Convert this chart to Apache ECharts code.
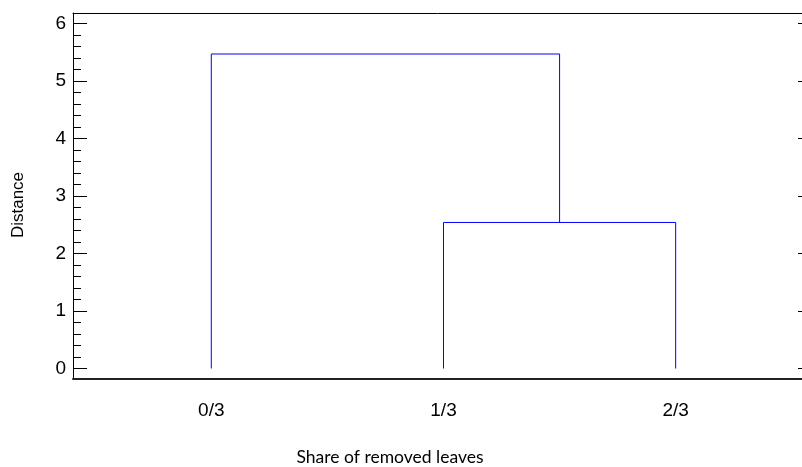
<!DOCTYPE html>
<html>
<head>
<meta charset="utf-8">
<script src="https://cdn.jsdelivr.net/npm/echarts@6/dist/echarts.min.js"></script>
<style>
  html, body { margin: 0; padding: 0; background: #fff; }
  #chart { width: 802px; height: 467px; }
</style>
</head>
<body>
<div id="chart"></div>
<script>
// Leaves of the dendrogram, in drawing order
const leafLabels = ['0/3', '1/3', '2/3'];
const leafPositions = [0, 1, 2];

// Agglomeration steps: clusters joined and the distance at which they join.
// Cluster ids 0..2 are leaves; id 3 is the cluster produced by the first merge.
const mergeLeft = [1, 0];
const mergeRight = [2, 3];
const mergeHeights = [2.54, 5.47];

// Y-axis tick values
const yTicks = [0, 1, 2, 3, 4, 5, 6];

const axisFont = 'Liberation Sans, Arial, sans-serif';

// Position and height of each cluster, then the U-shaped link for each merge
const clusterX = leafPositions.slice();
const clusterH = leafPositions.map(() => 0);
const linkSeries = mergeHeights.map((h, i) => {
  const a = mergeLeft[i], b = mergeRight[i];
  const pts = [
    [clusterX[a], clusterH[a]],
    [clusterX[a], h],
    [clusterX[b], h],
    [clusterX[b], clusterH[b]]
  ];
  clusterX.push((clusterX[a] + clusterX[b]) / 2);
  clusterH.push(h);
  return {
    type: 'line',
    xAxisIndex: 0,
    yAxisIndex: 0,
    data: pts,
    showSymbol: false,
    symbol: 'none',
    silent: true,
    lineStyle: { color: '#0000ff', width: 1 },
    animation: false
  };
});

const chart = echarts.init(document.getElementById('chart'), null, { renderer: 'canvas' });

chart.setOption({
  animation: false,
  backgroundColor: '#ffffff',
  grid: [
    // plotting frame (continues past the right edge of the canvas)
    { left: 73, top: 13, right: 0, height: 366, containLabel: false },
    // tick frame: spans exactly 0..6 on the same vertical scale
    { left: 73, top: 23.5, right: 0, height: 345, containLabel: false }
  ],
  xAxis: [
    {
      gridIndex: 0, type: 'value', min: -0.5956, max: 2.544, position: 'bottom',
      axisLine: { show: true, onZero: false, lineStyle: { color: '#222', width: 2 } },
      axisTick: { show: false },
      splitLine: { show: false },
      axisLabel: {
        customValues: leafPositions,
        formatter: v => leafLabels[leafPositions.indexOf(v)],
        fontFamily: axisFont, fontSize: 19, color: '#000', margin: 22
      }
    },
    {
      gridIndex: 0, type: 'value', min: -0.5956, max: 2.544, position: 'top',
      axisLine: { show: true, onZero: false, lineStyle: { color: '#000', width: 1 } },
      axisTick: { show: false },
      axisLabel: { show: false },
      splitLine: { show: false }
    },
    { gridIndex: 1, type: 'value', min: 0, max: 1, show: false }
  ],
  yAxis: [
    {
      gridIndex: 0, type: 'value', min: -0.1826, max: 6.183,
      axisLine: { show: true, onZero: false, lineStyle: { color: '#000', width: 1 } },
      axisTick: { show: false },
      axisLabel: { show: false },
      splitLine: { show: false }
    },
    {
      gridIndex: 1, type: 'value', position: 'left', min: yTicks[0], max: yTicks[yTicks.length - 1], interval: 1,
      axisLine: { show: false, onZero: false },
      axisTick: { show: true, inside: true, length: 14, lineStyle: { color: '#000', width: 1 } },
      minorTick: { show: true, splitNumber: 5, length: 8, lineStyle: { color: '#000', width: 1 } },
      axisLabel: { fontFamily: axisFont, fontSize: 19, color: '#000', margin: 7 },
      splitLine: { show: false },
      minorSplitLine: { show: false }
    },
    {
      gridIndex: 1, type: 'value', position: 'right', min: yTicks[0], max: yTicks[yTicks.length - 1], interval: 1,
      axisLine: { show: false, onZero: false },
      axisTick: { show: true, inside: true, length: 4, lineStyle: { color: '#000', width: 1 } },
      axisLabel: { show: false },
      splitLine: { show: false }
    }
  ],
  graphic: [
    {
      type: 'text', x: 18, y: 205, rotation: Math.PI / 2,
      style: { text: 'Distance', fill: '#000', font: '17px ' + axisFont, align: 'center', verticalAlign: 'middle' }
    },
    {
      type: 'text', x: 390, y: 457,
      style: { text: 'Share of removed leaves', fill: '#000', font: '17.5px Lato, "Open Sans", sans-serif', align: 'center', verticalAlign: 'middle' }
    }
  ],
  series: linkSeries
});
</script>
</body>
</html>
